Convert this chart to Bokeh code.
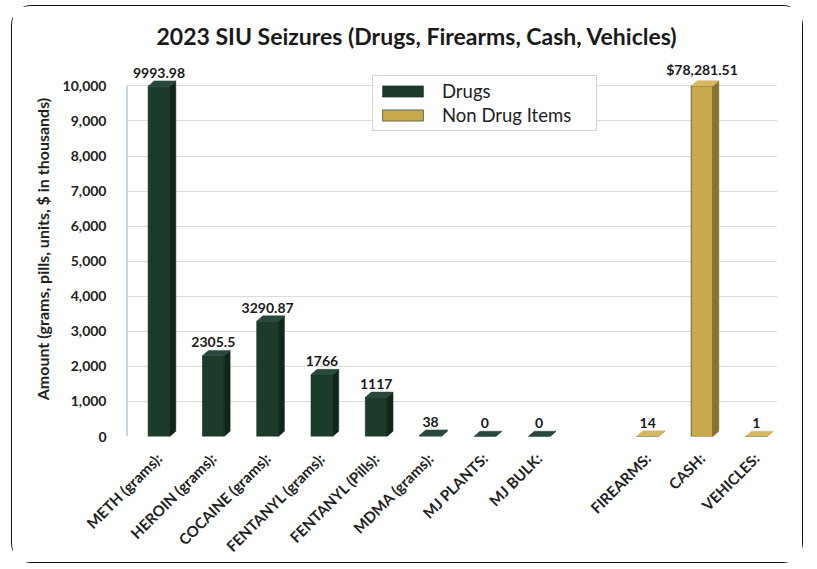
from bokeh.plotting import figure
from bokeh.models import ColumnDataSource, FixedTicker, NumeralTickFormatter, Legend, LegendItem, Range1d
from bokeh.core.properties import value
from bokeh.embed import file_html
from bokeh.resources import INLINE
import math

# ---- data ----
drug_categories = ["METH (grams):", "HEROIN (grams):", "COCAINE (grams):", "FENTANYL (grams):",
                   "FENTANYL (Pills):", "MDMA (grams):", "MJ PLANTS:", "MJ BULK:"]
drug_values = [9993.98, 2305.5, 3290.87, 1766, 1117, 38, 0, 0]
nondrug_categories = ["FIREARMS:", "CASH:", "VEHICLES:"]
nondrug_values = [14, 78281.51, 1]
axis_max = 10000
y_ticks = list(range(0, 10001, 1000))

# ---- styling ----
FONT = "Lato"
GREEN = ("#1d3b2a", "#11261a", "#27483a")   # front, side, top
GOLD = ("#c8a94c", "#8a7230", "#d5b861")
W = 0.40      # front width (slot units)
DX = 0.11     # 3d depth x (slot units)
DY = 150      # 3d depth y (value units)

drug_slots = list(range(len(drug_values)))
nondrug_slots = [len(drug_values) + 1 + i for i in range(len(nondrug_values))]

def build(slots, vals, labels):
    shown = [min(v, axis_max) for v in vals]
    side_xs, side_ys, top_xs, top_ys = [], [], [], []
    for x, v in zip(slots, shown):
        r = x + W / 2
        l = x - W / 2
        side_xs.append([r, r + DX, r + DX, r])
        side_ys.append([0, DY, v + DY, v])
        top_xs.append([l, r, r + DX, l + DX])
        top_ys.append([v, v, v + DY, v + DY])
    front = ColumnDataSource(dict(x=slots, top=shown, lab=labels, ly=[v + DY for v in shown]))
    side = ColumnDataSource(dict(xs=side_xs, ys=side_ys))
    top = ColumnDataSource(dict(xs=top_xs, ys=top_ys))
    return front, side, top

drug_labels = [f"{v:g}" for v in drug_values]
nondrug_labels = [f"{v:g}" if v < axis_max else f"${v:,.2f}" for v in nondrug_values]

x_start = -0.5985
p = figure(width=792, height=558, output_backend="svg", toolbar_location=None,
           x_range=Range1d(x_start, 11.39), y_range=Range1d(0, 10697),
           min_border_left=114, min_border_right=27, min_border_top=55, min_border_bottom=127,
           title="2023 SIU Seizures (Drugs, Firearms, Cash, Vehicles)")
p.styles = {"margin-left": "11px", "margin-top": "5px",
            "border": "1.5px solid #111111", "border-radius": "20px"}
p.outline_line_color = None
p.title.text_font = FONT
p.title.text_font_size = "23px"
p.title.text_font_style = "bold"
p.title.text_color = "#1a1a1a"
p.title.align = "left"
p.title.offset = 30
p.title.standoff = 23

p.xgrid.grid_line_color = None
p.ygrid.grid_line_color = "#dcdcdc"
p.ygrid.grid_line_width = 1.2

p.yaxis.ticker = FixedTicker(ticks=y_ticks)
p.yaxis.formatter = NumeralTickFormatter(format="0,0")
p.yaxis.axis_line_color = None
p.yaxis.major_tick_line_color = None
p.yaxis.minor_tick_line_color = None
p.yaxis.major_label_text_font = FONT
p.yaxis.major_label_text_font_size = "14px"
p.yaxis.major_label_text_font_style = "bold"
p.yaxis.major_label_text_color = "#222"
p.yaxis.major_label_standoff = 14
p.yaxis.axis_label = "Amount (grams, pills, units, $ in thousands)"
p.yaxis.axis_label_text_font = FONT
p.yaxis.axis_label_text_font_size = "16px"
p.yaxis.axis_label_text_font_style = "bold"
p.yaxis.axis_label_text_color = "#222"
p.yaxis.axis_label_standoff = 8

all_slots = drug_slots + nondrug_slots
all_cats = drug_categories + nondrug_categories
p.xaxis.ticker = FixedTicker(ticks=all_slots)
p.xaxis.major_label_overrides = {s: c for s, c in zip(all_slots, all_cats)}
p.xaxis.major_label_orientation = math.pi / 4
p.xaxis.axis_line_color = None
p.xaxis.major_tick_line_color = None
p.xaxis.minor_tick_line_color = None
p.xaxis.major_label_text_font = FONT
p.xaxis.major_label_text_font_size = "15px"
p.xaxis.major_label_text_font_style = "bold"
p.xaxis.major_label_text_color = "#222"
p.xaxis.major_label_standoff = 13

# blue value axis line
p.segment(x0=[x_start], y0=[0], x1=[x_start], y1=[axis_max], line_color="#8ab6cf", line_width=2)

renderers = []
for slots, vals, labs, (cf, cs, ct) in [(drug_slots, drug_values, drug_labels, GREEN),
                                          (nondrug_slots, nondrug_values, nondrug_labels, GOLD)]:
    front, side, top = build(slots, vals, labs)
    r = p.vbar(x="x", top="top", bottom=0, width=W, source=front,
               fill_color=cf, line_color="#13261b", line_width=0.6)
    p.patches(xs="xs", ys="ys", source=side, fill_color=cs, line_color=cs, line_width=0.5)
    p.patches(xs="xs", ys="ys", source=top, fill_color=ct, line_color=ct, line_width=0.5)
    p.text(x="x", y="ly", text="lab", source=front, text_align="center", text_baseline="bottom",
           y_offset=-3, text_font=value(FONT), text_font_size="14px", text_font_style="bold",
           text_color="#1a1a1a")
    renderers.append(r)

legend = Legend(items=[LegendItem(label="Drugs", renderers=[renderers[0]]),
                       LegendItem(label="Non Drug Items", renderers=[renderers[1]])],
                location=(246, 305), orientation="vertical")
legend.label_text_font = FONT
legend.label_text_font_size = "18.5px"
legend.label_text_color = "#222"
legend.glyph_width = 51
legend.glyph_height = 14
legend.label_height = 20
legend.spacing = 2
legend.padding = 4
legend.label_standoff = 14
legend.label_width = 150
legend.border_line_color = "#a3aab2"
legend.border_line_width = 1.2
legend.background_fill_alpha = 1
p.add_layout(legend, "center")

open("out.html", "w").write(file_html(p, INLINE))
